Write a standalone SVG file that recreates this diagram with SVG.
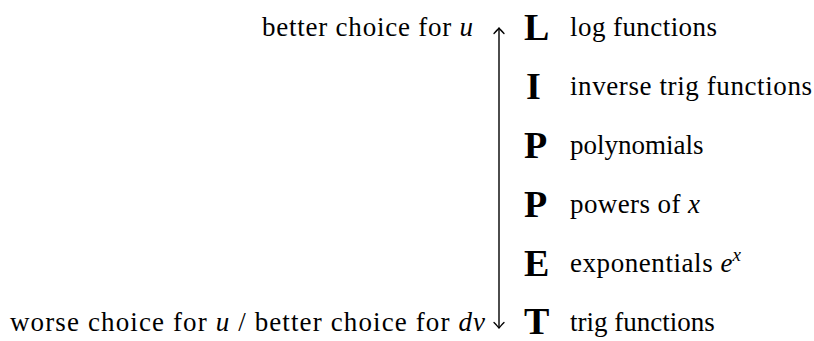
<svg xmlns="http://www.w3.org/2000/svg" width="814" height="341" viewBox="0 0 814 341">
<style>
text{font-family:"Liberation Serif","Times New Roman","DejaVu Serif",serif;fill:#000}
.lab{font-size:27px}
.big{font-size:38px;font-weight:bold}
.it{font-style:italic}
</style>
<defs>
<marker id="ah" viewBox="-7 -7 14 14" markerWidth="14" markerHeight="14" refX="0" refY="0" orient="auto" markerUnits="userSpaceOnUse">
<path d="M-5.5,-5 Q-1.5,-1.2 0,0 Q-1.5,1.2 -5.5,5" fill="none" stroke="#000" stroke-width="1.3" stroke-linecap="round"/>
</marker>
</defs>
<rect width="814" height="341" fill="#fff"/>
<g id="connectors">
<line x1="499" y1="180" x2="499" y2="28" stroke="#000" stroke-width="1.4" marker-end="url(#ah)"/>
<line x1="499" y1="180" x2="499" y2="328" stroke="#000" stroke-width="1.4" marker-end="url(#ah)"/>
</g>
<g id="top-label"><text class="lab" x="262" y="36" textLength="211" lengthAdjust="spacing">better choice for <tspan class="it">u</tspan></text></g>
<g id="bottom-label"><text class="lab" x="10" y="331" textLength="475" lengthAdjust="spacing">worse choice for <tspan class="it">u</tspan> / better choice for <tspan class="it">dv</tspan></text></g>
<g id="row-L"><text class="big" x="524" y="40">L</text><text class="lab" x="570" y="36" textLength="147" lengthAdjust="spacing">log functions</text></g>
<g id="row-I"><text class="big" x="526" y="99">I</text><text class="lab" x="570" y="95" textLength="242" lengthAdjust="spacing">inverse trig functions</text></g>
<g id="row-P1"><text class="big" x="524" y="158">P</text><text class="lab" x="570" y="154">polynomials</text></g>
<g id="row-P2"><text class="big" x="524" y="217">P</text><text class="lab" x="570" y="213" textLength="130" lengthAdjust="spacing">powers of <tspan class="it">x</tspan></text></g>
<g id="row-E"><text class="big" x="524" y="276">E</text><text class="lab" x="570" y="272"><tspan textLength="150" lengthAdjust="spacing">exponentials </tspan><tspan class="it">e</tspan><tspan class="it" font-size="19" dy="-11">x</tspan></text></g>
<g id="row-T"><text class="big" x="524" y="334">T</text><text class="lab" x="570" y="331">trig functions</text></g>
</svg>
